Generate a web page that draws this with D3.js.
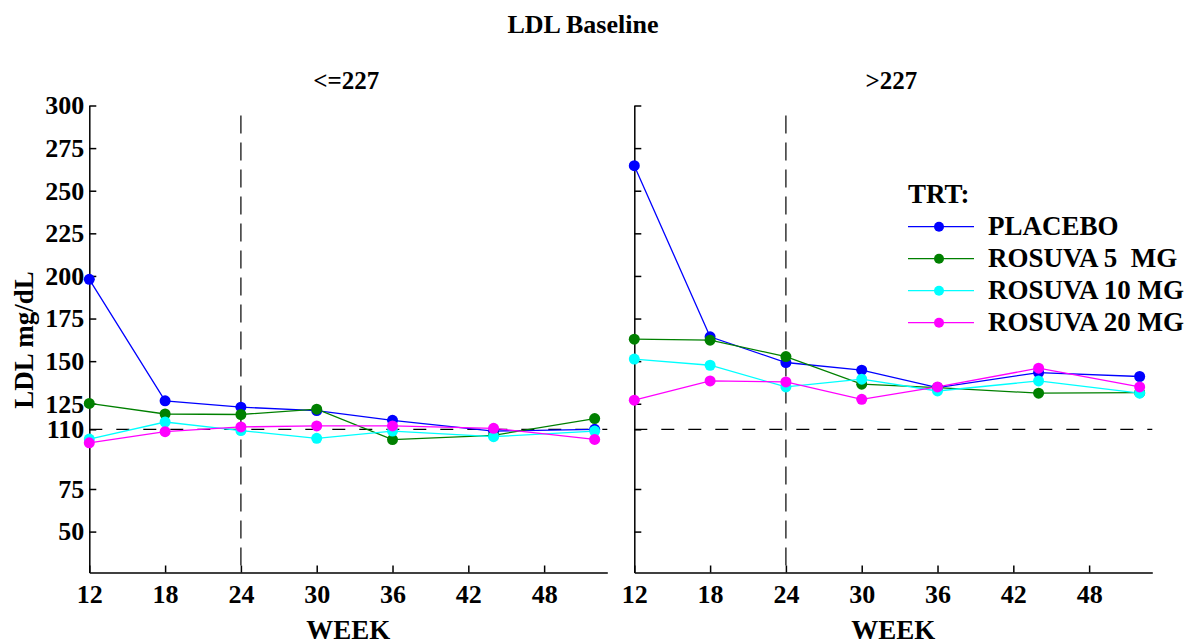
<!DOCTYPE html>
<html>
<head>
<meta charset="utf-8">
<script src="https://cdn.jsdelivr.net/npm/d3@7"></script>
<style>
  body { margin: 0; background: #fff; }
  text { font-family: "Liberation Serif", "Times New Roman", serif; font-weight: bold; fill: #000; }
  .axis path, .axis line { stroke: #000; stroke-width: 1.5; }
  .axis text { font-size: 26px; }
</style>
</head>
<body>
<div id="chart"></div>
<script>

// data

var weeks = [12, 18, 24, 30, 36, 44, 52];
var groups = ["<=227", ">227"];
var treatments = ["PLACEBO", "ROSUVA 5  MG", "ROSUVA 10 MG", "ROSUVA 20 MG"];

// LDL baseline <= 227
var low_placebo  = [198, 126.7, 123, 121, 115.3, 109, 110];
var low_rosuva5  = [125.2, 119, 118.7, 121.8, 104, 106.5, 116.3];
var low_rosuva10 = [104.3, 114.3, 109.3, 104.7, 109, 105.7, 109];
var low_rosuva20 = [102.1, 108.6, 111.4, 112, 112, 110.6, 104.1];

// LDL baseline > 227
var high_placebo  = [264.7, 164.3, 149.2, 144.7, 134.5, 143.3, 141];
var high_rosuva5  = [162.9, 162.3, 152.7, 136.5, 134.5, 131.2, 131.5];
var high_rosuva10 = [151.2, 147.6, 134.9, 139.4, 132.5, 138.4, 131.2];
var high_rosuva20 = [127.1, 138.4, 137.8, 127.6, 134.9, 145.9, 134.9];

var xTicks = [12, 18, 24, 30, 36, 42, 48];
var yTicks = [50, 75, 110, 125, 150, 175, 200, 225, 250, 275, 300];
var refWeek = 24;
var refLDL = 110;

var colors = ["#0000ff", "#008000", "#00ffff", "#ff00ff"];

var panelSeries = [
  [low_placebo, low_rosuva5, low_rosuva10, low_rosuva20],
  [high_placebo, high_rosuva5, high_rosuva10, high_rosuva20]
];

var svgWidth = 1185;
var svgHeight = 643;

var svg = d3.select("#chart")
  .append("svg")
  .attr("width", svgWidth)
  .attr("height", svgHeight);

// panels share the y scale
var yScale = d3.scaleLinear()
  .domain([26, 300])
  .range([572.5, 105.5]);

var panelLeft = [89.3, 634.3];
var panelWidth = 518;

// main title
svg.append("text")
  .attr("x", 583)
  .attr("y", 33)
  .attr("text-anchor", "middle")
  .attr("font-size", "26px")
  .text("LDL Baseline");

// y axis title
svg.append("text")
  .attr("transform", "translate(33,340) rotate(-90)")
  .attr("text-anchor", "middle")
  .attr("font-size", "27px")
  .text("LDL mg/dL");

var line = d3.line();

groups.forEach(function(g, p) {

  var xScale = d3.scaleLinear()
    .domain([12, 53])
    .range([panelLeft[p], panelLeft[p] + panelWidth]);

  var panel = svg.append("g");

  // reference lines
  panel.append("line")
    .attr("x1", xScale(refWeek))
    .attr("x2", xScale(refWeek))
    .attr("y1", yScale.range()[1] + 10)
    .attr("y2", yScale.range()[0])
    .attr("stroke", "#000")
    .attr("stroke-width", 1.2)
    .attr("stroke-dasharray", "18,9");

  panel.append("line")
    .attr("x1", xScale.range()[0])
    .attr("x2", xScale.range()[1])
    .attr("y1", yScale(refLDL))
    .attr("y2", yScale(refLDL))
    .attr("stroke", "#000")
    .attr("stroke-width", 1.2)
    .attr("stroke-dasharray", "13,14");

  // axes, ticks pointing inward
  panel.append("g")
    .attr("class", "axis")
    .attr("transform", `translate(0,${yScale.range()[0]})`)
    .call(d3.axisBottom(xScale).tickValues(xTicks).tickSizeInner(-7).tickSizeOuter(0).tickPadding(12));

  var yAxis = d3.axisLeft(yScale).tickValues(yTicks).tickSizeInner(-7).tickSizeOuter(0).tickPadding(5);
  if (p == 1) yAxis.tickFormat("");

  var ya = panel.append("g")
    .attr("class", "axis")
    .attr("transform", `translate(${panelLeft[p]},0)`)
    .call(yAxis);
  ya.selectAll("text").attr("font-size", "27px");

  // panel title
  panel.append("text")
    .attr("x", panelLeft[p] + panelWidth / 2 - 2)
    .attr("y", 89)
    .attr("text-anchor", "middle")
    .attr("font-size", "25px")
    .text(g);

  // x axis title
  panel.append("text")
    .attr("x", panelLeft[p] + panelWidth / 2)
    .attr("y", 639)
    .attr("text-anchor", "middle")
    .attr("font-size", "27px")
    .text("WEEK");

  // lines then markers, series in legend order
  panelSeries[p].forEach(function(vals, i) {
    var pts = weeks.map(function(w, k) { return [xScale(w), yScale(vals[k])]; });
    panel.append("path")
      .attr("d", line(pts))
      .attr("fill", "none")
      .attr("stroke", colors[i])
      .attr("stroke-width", 1.3);
  });

  panelSeries[p].forEach(function(vals, i) {
    panel.selectAll(null)
      .data(weeks)
      .enter()
      .append("circle")
      .attr("cx", function(w) { return xScale(w); })
      .attr("cy", function(w, k) { return yScale(vals[k]); })
      .attr("r", 5.5)
      .attr("fill", colors[i]);
  });
});

// legend
var legend = svg.append("g").attr("transform", "translate(908,0)");

legend.append("text")
  .attr("x", 0)
  .attr("y", 203)
  .attr("font-size", "27px")
  .text("TRT:");

treatments.forEach(function(t, i) {
  var ly = 226.7 + i * 32;
  legend.append("line")
    .attr("x1", 0).attr("x2", 66)
    .attr("y1", ly).attr("y2", ly)
    .attr("stroke", colors[i])
    .attr("stroke-width", 1.3);
  legend.append("circle")
    .attr("cx", 31).attr("cy", ly)
    .attr("r", 5)
    .attr("fill", colors[i]);
  legend.append("text")
    .attr("x", 80)
    .attr("y", ly + 8.5)
    .attr("font-size", "27px")
    .attr("xml:space", "preserve")
    .style("white-space", "pre")
    .text(t);
});

</script>
</body>
</html>
